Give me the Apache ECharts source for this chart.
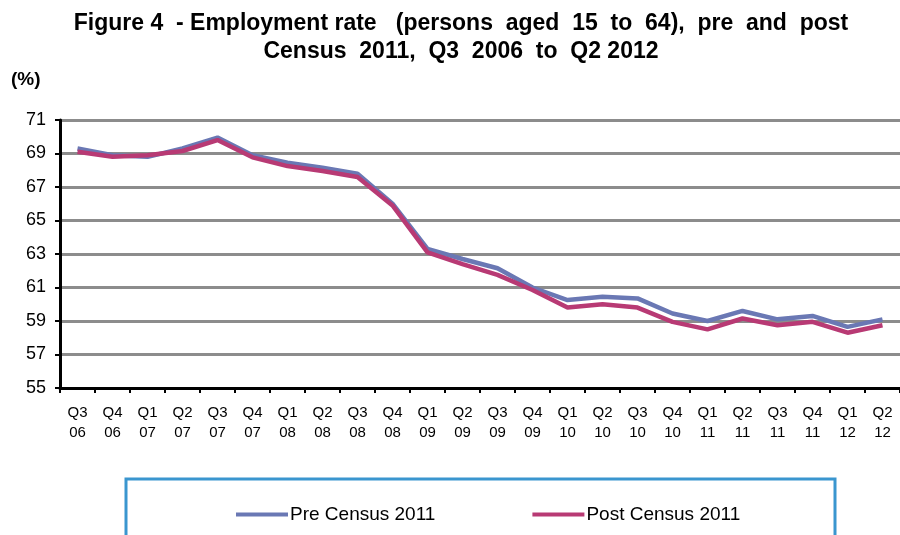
<!DOCTYPE html>
<html>
<head>
<meta charset="utf-8">
<script src="https://cdn.jsdelivr.net/npm/echarts@6/dist/echarts.min.js"></script>
<style>
  html, body { margin: 0; padding: 0; background: #fff; }
  #chart { width: 900px; height: 535px; }
</style>
</head>
<body>
<div id="chart"></div>
<script>
const quarters = ['Q3\n06', 'Q4\n06', 'Q1\n07', 'Q2\n07', 'Q3\n07', 'Q4\n07', 'Q1\n08', 'Q2\n08',
  'Q3\n08', 'Q4\n08', 'Q1\n09', 'Q2\n09', 'Q3\n09', 'Q4\n09', 'Q1\n10', 'Q2\n10', 'Q3\n10',
  'Q4\n10', 'Q1\n11', 'Q2\n11', 'Q3\n11', 'Q4\n11', 'Q1\n12', 'Q2\n12'];

const preCensus = [69.3, 68.9, 68.8, 69.3, 69.95, 68.9, 68.45, 68.15, 67.8, 66.0, 63.3, 62.7,
  62.15, 61.0, 60.25, 60.45, 60.35, 59.45, 59.0, 59.6, 59.1, 59.3, 58.65, 59.1];

const postCensus = [69.1, 68.8, 68.9, 69.15, 69.8, 68.77, 68.25, 67.95, 67.6, 65.9, 63.1, 62.4,
  61.75, 60.85, 59.8, 60.0, 59.8, 58.95, 58.5, 59.15, 58.75, 58.95, 58.3, 58.75];

const chart = echarts.init(document.getElementById('chart'));

chart.setOption({
  animation: false,
  title: {
    text: 'Figure 4  - Employment rate   (persons  aged  15  to  64),  pre  and  post\nCensus  2011,  Q3  2006  to  Q2 2012',
    left: 456,
    textAlign: 'center',
    top: 5,
    textStyle: {
      fontFamily: 'Liberation Sans, Arial, sans-serif',
      fontSize: 23,
      fontWeight: 'bold',
      color: '#000',
      lineHeight: 28
    }
  },
  legend: {
    data: ['Pre Census 2011', 'Post Census 2011'],
    left: 231,
    top: 500,
    itemWidth: 52,
    itemHeight: 4,
    itemGap: 97,
    icon: 'rect',
    textStyle: {
      fontFamily: 'Liberation Sans, Arial, sans-serif',
      fontSize: 19,
      color: '#000',
      padding: [0, 0, 0, -3]
    }
  },
  graphic: [
    {
      type: 'text',
      left: 11,
      top: 70,
      style: {
        text: '(%)',
        font: 'bold 19px Liberation Sans, Arial, sans-serif',
        fill: '#000'
      }
    },
    {
      type: 'rect',
      shape: { x: 126, y: 479, width: 709, height: 80 },
      style: { fill: 'none', stroke: '#3a96cf', lineWidth: 3 },
      z: -1
    }
  ],
  grid: {
    left: 60,
    top: 120,
    width: 842,
    height: 268,
    containLabel: false
  },
  xAxis: {
    type: 'category',
    data: quarters,
    boundaryGap: true,
    axisLine: { lineStyle: { color: '#000', width: 3 } },
    axisTick: { show: true, length: 5, inside: false, lineStyle: { color: '#000', width: 2 } },
    axisLabel: {
      interval: 0,
      margin: 15,
      fontFamily: 'Liberation Sans, Arial, sans-serif',
      fontSize: 15,
      lineHeight: 20,
      color: '#000'
    },
    splitLine: { show: false }
  },
  yAxis: {
    type: 'value',
    min: 55,
    max: 71,
    interval: 2,
    axisLine: { show: true, lineStyle: { color: '#000', width: 3 } },
    axisTick: { show: true, length: 5, lineStyle: { color: '#000', width: 2 } },
    axisLabel: {
      margin: 14,
      fontFamily: 'Liberation Sans, Arial, sans-serif',
      fontSize: 18,
      color: '#000'
    },
    splitLine: { show: true, lineStyle: { color: '#8c8c8c', width: 3 } }
  },
  series: [
    {
      name: 'Pre Census 2011',
      type: 'line',
      data: preCensus,
      symbol: 'none',
      color: '#6a78b4',
      lineStyle: { width: 4.5, color: '#6a78b4' },
      z: 2
    },
    {
      name: 'Post Census 2011',
      type: 'line',
      data: postCensus,
      symbol: 'none',
      color: '#b83a74',
      lineStyle: { width: 4.5, color: '#b83a74' },
      z: 3
    }
  ]
});
</script>
</body>
</html>
